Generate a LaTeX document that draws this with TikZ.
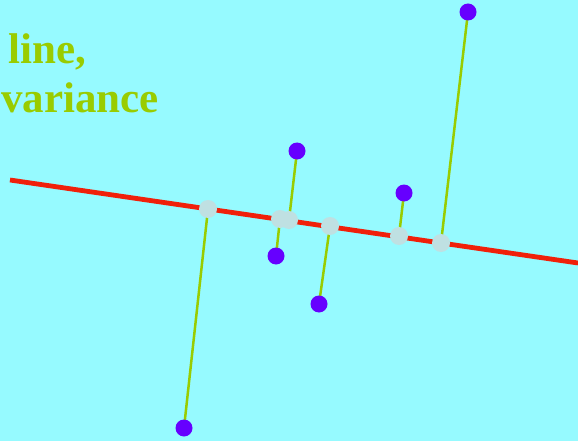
\documentclass[tikz,border=0pt]{standalone}
\usepackage{fontspec}
\setmainfont{Liberation Serif}
\definecolor{bgcyan}{HTML}{96FAFF}
\definecolor{fitred}{HTML}{F0200A}
\definecolor{projgreen}{HTML}{99CC00}
\definecolor{ptpurple}{HTML}{6600FF}
\definecolor{projgray}{HTML}{BFE0E2}
\begin{document}
\begin{tikzpicture}[x=1pt, y=-1pt,
  pt/.style={circle, fill=ptpurple, inner sep=0pt, minimum size=17pt},
  proj/.style={circle, fill=projgray, inner sep=0pt, minimum size=18pt},
  resid/.style={projgreen, line width=2.5pt},
  lbl/.style={text=projgreen, font=\fontsize{43}{48}\selectfont\bfseries, inner sep=0pt, anchor=base west}]
\useasboundingbox (0,0) rectangle (578,441);
\fill[bgcyan] (0,0) rectangle (578,441);
\node[lbl] (t1) at (8,64) {line,};
\node[lbl] (t2) at (1,113) {variance};
% fitted line
\coordinate (l0) at (10,180);
\coordinate (l1) at (578,263);
\draw[fitred, line width=4.8pt] (l0) -- (l1);
% data points and their projections
\coordinate (p1) at (468,12);
\coordinate (p2) at (297,151);
\coordinate (p3) at (404,193);
\coordinate (p4) at (276,256);
\coordinate (p5) at (319,304);
\coordinate (p6) at (184,428);
\coordinate (q1) at (441,243);
\coordinate (q2) at (289,220);
\coordinate (q3) at (399,236);
\coordinate (q4) at (280,219);
\coordinate (q5) at (330,226);
\coordinate (q6) at (208,209);
\foreach \i in {1,...,6} \draw[resid] (p\i) -- (q\i);
\foreach \i in {6,4,2,5,3,1} \node[proj] (n\i) at (q\i) {};
\foreach \i in {1,...,6} \node[pt] (m\i) at (p\i) {};
\end{tikzpicture}
\end{document}
